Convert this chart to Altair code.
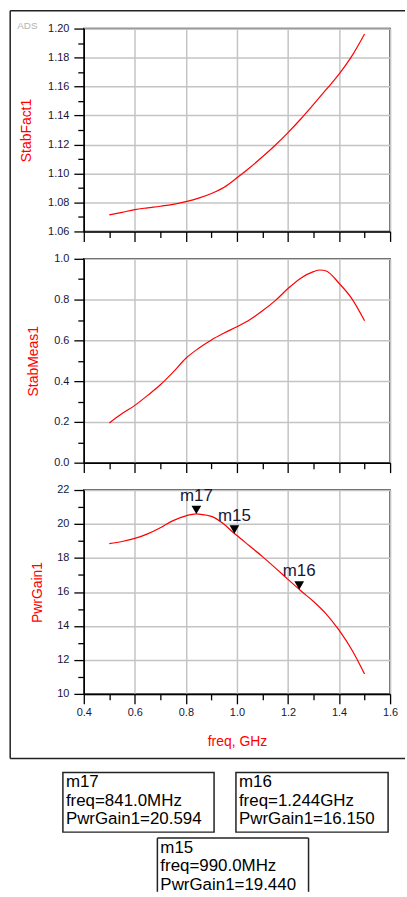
import altair as alt
import pandas as pd

# ---- swept data (frequency in GHz) ----
fact_freq = [0.50, 0.55, 0.60, 0.65, 0.70, 0.75, 0.80, 0.85, 0.90, 0.95, 1.00,
             1.05, 1.10, 1.15, 1.20, 1.25, 1.30, 1.35, 1.40, 1.45, 1.50]
stab_fact1 = [1.0714, 1.0732, 1.0751, 1.0763, 1.0774, 1.0787, 1.0806, 1.0830,
              1.0862, 1.0905, 1.0970, 1.1040, 1.1115, 1.1195, 1.1282, 1.1376,
              1.1477, 1.1580, 1.1685, 1.1810, 1.1963]

meas_freq = [0.50, 0.55, 0.60, 0.65, 0.70, 0.75, 0.80, 0.85, 0.90, 0.95, 1.00,
             1.05, 1.10, 1.15, 1.20, 1.25, 1.30, 1.325, 1.35, 1.40, 1.45, 1.50]
stab_meas1 = [0.195, 0.241, 0.281, 0.330, 0.382, 0.444, 0.512, 0.561, 0.602,
              0.636, 0.667, 0.701, 0.745, 0.795, 0.854, 0.905, 0.937, 0.945,
              0.940, 0.880, 0.805, 0.696]

gain_freq = [0.50, 0.55, 0.60, 0.65, 0.70, 0.75, 0.80, 0.841, 0.85, 0.90, 0.95,
             0.99, 1.00, 1.05, 1.10, 1.15, 1.20, 1.244, 1.25, 1.30, 1.35, 1.40,
             1.45, 1.50]
pwr_gain1 = [18.85, 18.97, 19.15, 19.42, 19.78, 20.20, 20.48, 20.594, 20.58,
             20.45, 19.98, 19.44, 19.32, 18.70, 18.08, 17.42, 16.74, 16.15,
             16.07, 15.44, 14.70, 13.75, 12.60, 11.17]

# ---- markers on PwrGain1 ----
marker_names = ["m17", "m15", "m16"]
marker_freq = [0.841, 0.990, 1.244]
marker_gain = [20.594, 19.440, 16.150]


def freq_text(f):
    return f"{f * 1000:.1f}MHz" if f < 1 else f"{f:.3f}GHz"


markers = pd.DataFrame({"freq": marker_freq, "val": marker_gain, "name": marker_names})
markers["readout"] = [
    f"{n}\nfreq={freq_text(f)}\nPwrGain1={g:.3f}"
    for n, f, g in zip(marker_names, marker_freq, marker_gain)
]

fact_df = pd.DataFrame({"freq": fact_freq, "val": stab_fact1})
meas_df = pd.DataFrame({"freq": meas_freq, "val": stab_meas1})
gain_df = pd.DataFrame({"freq": gain_freq, "val": pwr_gain1})

W = 308
H_TOP, H_MID, H_BOT = 204, 205, 205
RED = "#ff0000"
INK = "#16163a"
FONT = "Liberation Sans"


def cond(test, major, minor):
    return {"condition": {"test": test, "value": major}, "value": minor}


def step_ticks(start, count, step, nd):
    return [round(start + i * step, nd) for i in range(count)]


def multiple_of(step):
    k = round(1 / step, 6)
    return f"abs(datum.value*{k} - round(datum.value*{k})) < 0.001"


x_major = multiple_of(0.2)
x_ticks = step_ticks(0.4, 13, 0.1, 2)


def x_axis(bottom):
    kw = dict(
        values=x_ticks,
        tickSize=cond(x_major, 10, 6),
        gridOpacity=cond(x_major, 1, 0),
        labelFlush=False,
        labelOverlap=False,
        labelPadding=3,
    )
    if bottom:
        kw.update(
            labelExpr=f"{x_major} ? format(datum.value, '.1f') : ''",
            title="freq, GHz",
            titleX=W / 2,
            titleY=48,
            titleAlign="center",
            titleBaseline="middle",
        )
    else:
        kw.update(labels=False, title=None)
    return alt.Axis(**kw)


def y_axis(title, ticks, test, fmt, h, title_x):
    return alt.Axis(
        values=ticks,
        tickSize=cond(test, 10, 6),
        gridOpacity=cond(test, 1, 0),
        labelExpr=f"{test} ? format(datum.value, '{fmt}') : ''",
        labelOverlap=False,
        labelFlush=False,
        labelPadding=5,
        title=title,
        titleAngle=270,
        titleX=title_x,
        titleY=h / 2,
        titleAlign="center",
        titleBaseline="middle",
    )


x_scale = alt.Scale(domain=[0.4, 1.6], nice=False, zero=False)


def xy(xaxis, domain, yaxis):
    return dict(
        x=alt.X("freq:Q", scale=x_scale, axis=xaxis),
        y=alt.Y("val:Q", scale=alt.Scale(domain=domain, nice=False, zero=False),
                axis=yaxis),
    )


def curve(df, enc):
    return alt.Chart(df).mark_line(color=RED, strokeWidth=1.2,
                                   interpolate="monotone").encode(**enc)


one = pd.DataFrame({"k": [0]})

# ---- StabFact1 panel ----
top_enc = xy(x_axis(False), [1.06, 1.20],
             y_axis("StabFact1", step_ticks(1.06, 15, 0.01, 3), multiple_of(0.02),
                    ".2f", H_TOP, -58))
ads = alt.Chart(one).mark_text(text="ADS", align="left", baseline="middle",
                               fontSize=10, font=FONT, color="#b4b4b4").encode(
    x=alt.value(-67), y=alt.value(-3))
top = alt.layer(curve(fact_df, top_enc), ads).properties(width=W, height=H_TOP)

# ---- StabMeas1 panel ----
mid_enc = xy(x_axis(False), [0.0, 1.0],
             y_axis("StabMeas1", step_ticks(0.0, 11, 0.1, 2), multiple_of(0.2),
                    ".1f", H_MID, -51))
mid = curve(meas_df, mid_enc).properties(width=W, height=H_MID)

# ---- PwrGain1 panel with markers ----
bot_enc = xy(x_axis(True), [10, 22],
             y_axis("PwrGain1", step_ticks(10, 13, 1, 0), multiple_of(2),
                    "d", H_BOT, -47))
tri = alt.Chart(markers).mark_point(shape="triangle-down", filled=True, size=95,
                                    color="black", opacity=1, yOffset=-4).encode(**bot_enc)
tri_lbl = alt.Chart(markers).mark_text(fontSize=17, font=FONT, color=INK,
                                       baseline="alphabetic", dy=-13).encode(
    text="name:N", **bot_enc)

layers = [curve(gain_df, bot_enc), tri, tri_lbl]

# outer frame around the three panels (open on the right)
frame = dict(left=-74, right=323, top=-482, bottom=270)
for xa, xb, ya, yb in [
    (frame["left"], frame["right"], frame["top"], None),
    (frame["left"], frame["right"], frame["bottom"], None),
    (frame["left"], None, frame["top"], frame["bottom"]),
]:
    enc = {"x": alt.value(xa), "y": alt.value(ya)}
    if xb is not None:
        enc["x2"] = alt.value(xb)
    if yb is not None:
        enc["y2"] = alt.value(yb)
    layers.append(alt.Chart(one).mark_rule(color="#222222", strokeWidth=1.5).encode(**enc))

# marker readout boxes: (left, top, right, bottom, closed)
box_layout = {
    "m17": (-21, 284, 131, 344, True),
    "m16": (153, 284, 306, 344, True),
    "m15": (74, 350, 226, 404, False),
}
for name, (bx0, by0, bx1, by1, closed) in box_layout.items():
    sub = markers[markers["name"] == name]
    if closed:
        layers.append(alt.Chart(one).mark_rect(fill="white", stroke="#222222",
                                               strokeWidth=1.5).encode(
            x=alt.value(bx0), x2=alt.value(bx1), y=alt.value(by0), y2=alt.value(by1)))
    else:
        layers.append(alt.Chart(one).mark_rect(fill="white").encode(
            x=alt.value(bx0), x2=alt.value(bx1), y=alt.value(by0), y2=alt.value(by1)))
        for xa, xb, ya, yb in [(bx0, bx1, by0, None), (bx0, None, by0, by1),
                               (bx1, None, by0, by1)]:
            enc = {"x": alt.value(xa), "y": alt.value(ya)}
            if xb is not None:
                enc["x2"] = alt.value(xb)
            if yb is not None:
                enc["y2"] = alt.value(yb)
            layers.append(alt.Chart(one).mark_rule(color="#222222",
                                                   strokeWidth=1.5).encode(**enc))
    layers.append(alt.Chart(sub).mark_text(align="left", baseline="top", fontSize=17,
                                           lineHeight=18.5, lineBreak="\n", font=FONT,
                                           color="black").encode(
        x=alt.value(bx0 + 3), y=alt.value(by0 + 2), text="readout:N"))

bot = alt.layer(*layers).properties(width=W, height=H_BOT)

chart = alt.vconcat(top, mid, bot, spacing=27.5, bounds="flush").properties(
    padding={"left": 8.25, "top": 6.25, "right": 0, "bottom": 0}
).configure_axis(
    domainColor="black", domainWidth=1.5,
    tickColor="black", tickWidth=1.3,
    gridColor="#c4c4c4", gridWidth=1.5,
    labelFont=FONT, labelFontSize=11, labelColor=INK,
    titleFont=FONT, titleFontSize=14, titleFontWeight="normal", titleColor=RED,
).configure_view(stroke="#222222", strokeWidth=1.5)

chart.save("out.html", embed_options={"renderer": "svg", "actions": False})
